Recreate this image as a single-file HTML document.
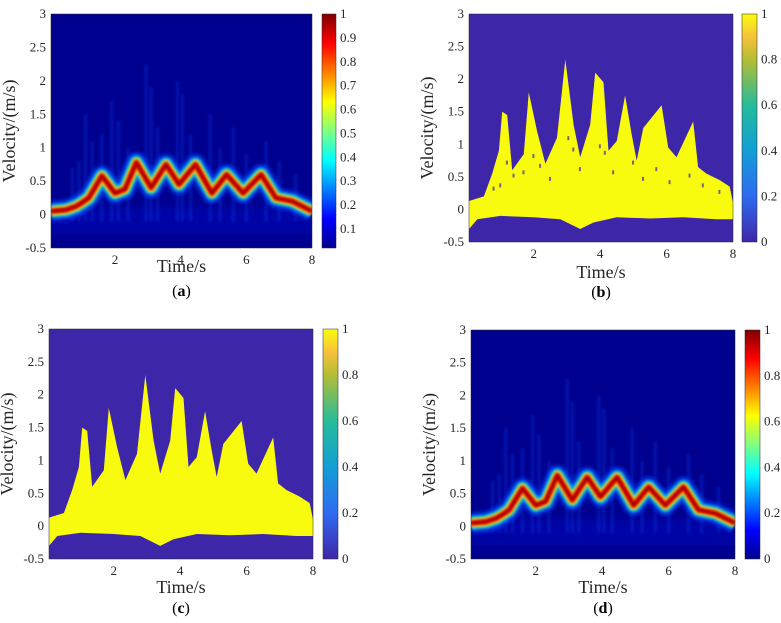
<!DOCTYPE html>
<html><head><meta charset="utf-8"><style>
html,body{margin:0;padding:0;background:#fff;}
svg{display:block;font-family:"Liberation Serif",serif;}
</style></head><body>
<svg id="fig" width="781" height="623" viewBox="0 0 781 623" xmlns="http://www.w3.org/2000/svg">
<defs>
<linearGradient id="jet" x1="0" y1="1" x2="0" y2="0">
<stop offset="0" stop-color="#00008f"/><stop offset="0.125" stop-color="#0000ff"/><stop offset="0.375" stop-color="#00ffff"/><stop offset="0.625" stop-color="#ffff00"/><stop offset="0.875" stop-color="#ff0000"/><stop offset="1" stop-color="#800000"/>
</linearGradient>
<linearGradient id="parula" x1="0" y1="1" x2="0" y2="0">
<stop offset="0" stop-color="#3e26a8"/><stop offset="0.2" stop-color="#2f6bf0"/><stop offset="0.4" stop-color="#139ed6"/><stop offset="0.6" stop-color="#26bc9a"/><stop offset="0.8" stop-color="#b4bd35"/><stop offset="0.9" stop-color="#f7c23b"/><stop offset="1" stop-color="#f9fb0e"/>
</linearGradient>
<filter id="blur1" x="-20%" y="-50%" width="140%" height="200%"><feGaussianBlur stdDeviation="1.2"/></filter>
<filter id="blur2" x="-200%" y="-20%" width="500%" height="140%"><feGaussianBlur stdDeviation="1.2"/></filter>
<filter id="blur3" x="-10%" y="-50%" width="120%" height="200%"><feGaussianBlur stdDeviation="4"/></filter>
</defs>
</svg>
<script>
// ridge (dominant velocity) for panels a and d
const ridgeT = [0.05,0.5,0.8,1.0,1.2,1.6,2.0,2.3,2.65,3.1,3.55,3.95,4.45,4.95,5.4,5.9,6.45,6.9,7.4,8.0];
const ridgeV = [0.05,0.07,0.12,0.18,0.25,0.58,0.32,0.38,0.78,0.40,0.75,0.45,0.75,0.32,0.60,0.32,0.60,0.25,0.20,0.05];
// faint streaks (time, top velocity)
const streakT = [0.7,0.9,1.1,1.3,1.6,1.9,2.1,2.4,2.95,3.1,3.3,3.9,4.05,4.3,4.9,5.2,5.6,6.0,6.6,7.0,7.5];
const streakV = [0.7,0.8,1.5,1.1,1.2,1.7,1.4,1.0,2.25,1.9,1.3,2.0,1.8,1.2,1.5,1.0,1.3,0.9,1.1,0.8,0.6];
// envelope for panels b and c
const envUpT = [0.05,0.5,0.75,0.95,1.05,1.2,1.35,1.7,1.85,2.1,2.35,2.7,2.95,3.2,3.4,3.7,3.85,4.1,4.25,4.5,4.75,4.95,5.1,5.3,5.85,6.05,6.3,6.8,6.95,7.2,7.6,7.9,8.0];
const envUpV = [0.13,0.2,0.55,0.9,1.5,1.45,0.6,0.85,1.8,1.2,0.7,1.1,2.3,1.3,0.8,1.3,2.1,1.95,0.9,1.05,1.75,1.15,0.75,1.25,1.6,0.95,0.8,1.35,0.65,0.55,0.45,0.35,0.1];
const envLoT = [0.05,0.3,1.0,2.0,2.8,3.4,3.8,4.5,5.5,6.5,7.5,8.0];
const envLoV = [-0.3,-0.15,-0.1,-0.12,-0.15,-0.3,-0.2,-0.12,-0.14,-0.12,-0.15,-0.15];
const xTicks = [2,4,6,8];
const yTicks = [-0.5,0,0.5,1,1.5,2,2.5,3];
const cbTicksA = [0.1,0.2,0.3,0.4,0.5,0.6,0.7,0.8,0.9,1];
const cbTicksB = [0,0.2,0.4,0.6,0.8,1];

const NS = "http://www.w3.org/2000/svg";
const svg = document.getElementById('fig');
function mk(tag, attrs, parent){const e=document.createElementNS(NS,tag);for(const k in attrs)e.setAttribute(k,attrs[k]);(parent||svg).appendChild(e);return e;}

const panels = [
 {id:'a',type:'jet',x0:51,x1:312,y0:14,y1:248,cb:[322,336],cbT:cbTicksA,cbMin:0.02,tx:272,ly:296},
 {id:'b',type:'par',x0:469,x1:733,y0:14,y1:242,cb:[742,757],cbT:cbTicksB,cbMin:0,tx:278,ly:297,thin:true},
 {id:'c',type:'par',x0:49,x1:313,y0:329,y1:559,cb:[323,338],cbT:cbTicksB,cbMin:0,tx:593,ly:613},
 {id:'d',type:'jet',x0:471,x1:735,y0:330,y1:559,cb:[745,760],cbT:cbTicksB,cbMin:0,tx:593,ly:613}
];

panels.forEach(p=>{
 const g = mk('g',{});
 
 
 const X = t => p.x0 + (t-0.05)/(8-0.05)*(p.x1-p.x0);
 const Y = v => p.y1 - (v+0.5)/3.5*(p.y1-p.y0);
 const clipId='clip'+p.id;
 const cp = mk('clipPath',{id:clipId},g);
 mk('rect',{x:p.x0,y:p.y0,width:p.x1-p.x0,height:p.y1-p.y0},cp);
 const bg = mk('rect',{x:p.x0,y:p.y0,width:p.x1-p.x0,height:p.y1-p.y0,fill:p.type==='jet'?'#00008f':'#3e26a8'},g);
 
 
 const plot = mk('g',{'clip-path':'url(#'+clipId+')'},g);
 if(p.type==='jet'){
  const haze = mk('rect',{x:p.x0-10,y:Y(0.1),width:p.x1-p.x0+20,height:Y(-0.3)-Y(0.1),fill:'#0010d0',opacity:0.35,filter:'url(#blur3)'},plot);
  
  
  streakT.forEach((t,i)=>{
   const l = mk('rect',{x:X(t)-1.5,y:Y(streakV[i]),width:3,height:Y(-0.1)-Y(streakV[i]),fill:'#1050ff',opacity:0.28,filter:'url(#blur2)'},plot);
   
   
  });
  const d = ridgeT.map((t,i)=>(i?'L':'M')+X(t).toFixed(1)+','+Y(ridgeV[i]).toFixed(1)).join(' ');
  [['#0040ff',22,0.5],['#00c8ff',15,0.7],['#b0ff50',10,0.9],['#ff9000',7,1],['#e00000',4.5,1],['#900000',1.8,1]].forEach(s=>{
   const path = mk('path',{d:d,fill:'none',stroke:s[0],'stroke-width':s[1],opacity:s[2],'stroke-linejoin':'round',filter:'url(#blur1)'},plot);
   
   
  });
 } else {
  let d = envUpT.map((t,i)=>(i?'L':'M')+X(t).toFixed(1)+','+Y(envUpV[i]).toFixed(1)).join(' ');
  for(let i=envLoT.length-1;i>=0;i--) d+=' L'+X(envLoT[i]).toFixed(1)+','+Y(envLoV[i]).toFixed(1);
  const poly = mk('path',{d:d+' Z',fill:'#f9fb0e'},plot);
  
  
  if(p.thin){
   streakT.forEach((t,i)=>{
    const h = mk('rect',{x:X(t)+2,y:Y(streakV[i]*0.5),width:2,height:4,fill:'#3e26a8',opacity:0.7},plot);
    
    
   });
  }
 }
 mk('rect',{x:p.x0,y:p.y0,width:p.x1-p.x0,height:p.y1-p.y0,fill:'none',stroke:'#262626','stroke-width':0.5},g);
 xTicks.forEach(t=>{
  const tx = mk('text',{x:X(t),y:p.y1+16,'font-size':13,'text-anchor':'middle',fill:'#262626'},g);
  tx.textContent=t;
  
  
 });
 yTicks.forEach(v=>{
  const ty = mk('text',{x:p.x0-5,y:Y(v)+4,'font-size':13,'text-anchor':'end',fill:'#262626'},g);
  ty.textContent=v;
  
  
 });
 const xl = mk('text',{x:(p.x0+p.x1)/2,y:p.tx,'font-size':18,'text-anchor':'middle',fill:'#262626'},g);
 xl.textContent='Time/s';
 
 
 const yc=(p.y0+p.y1)/2, yx=p.x0-36;
 const yl = mk('text',{x:yx,y:yc,'font-size':18,'text-anchor':'middle',fill:'#262626',transform:'rotate(-90 '+yx+' '+yc+')'},g);
 yl.textContent='Velocity/(m/s)';
 
 
 const cb = mk('rect',{x:p.cb[0],y:p.y0,width:p.cb[1]-p.cb[0],height:p.y1-p.y0,fill:p.type==='jet'?'url(#jet)':'url(#parula)',stroke:'#262626','stroke-width':0.5},g);
 
 
 const CY = v => p.y1 - (v-p.cbMin)/(1-p.cbMin)*(p.y1-p.y0);
 p.cbT.forEach(v=>{
  const c = mk('text',{x:p.cb[1]+4,y:CY(v)+4,'font-size':13,fill:'#262626'},g);
  c.textContent=v;
  
  
 });
 const cap = mk('text',{x:(p.x0+p.x1)/2,y:p.ly,'font-size':16,'text-anchor':'middle',fill:'#000'},g);
 cap.innerHTML='(<tspan font-weight="bold">'+p.id+'</tspan>)';
 
 
});
</script>
</body></html>
